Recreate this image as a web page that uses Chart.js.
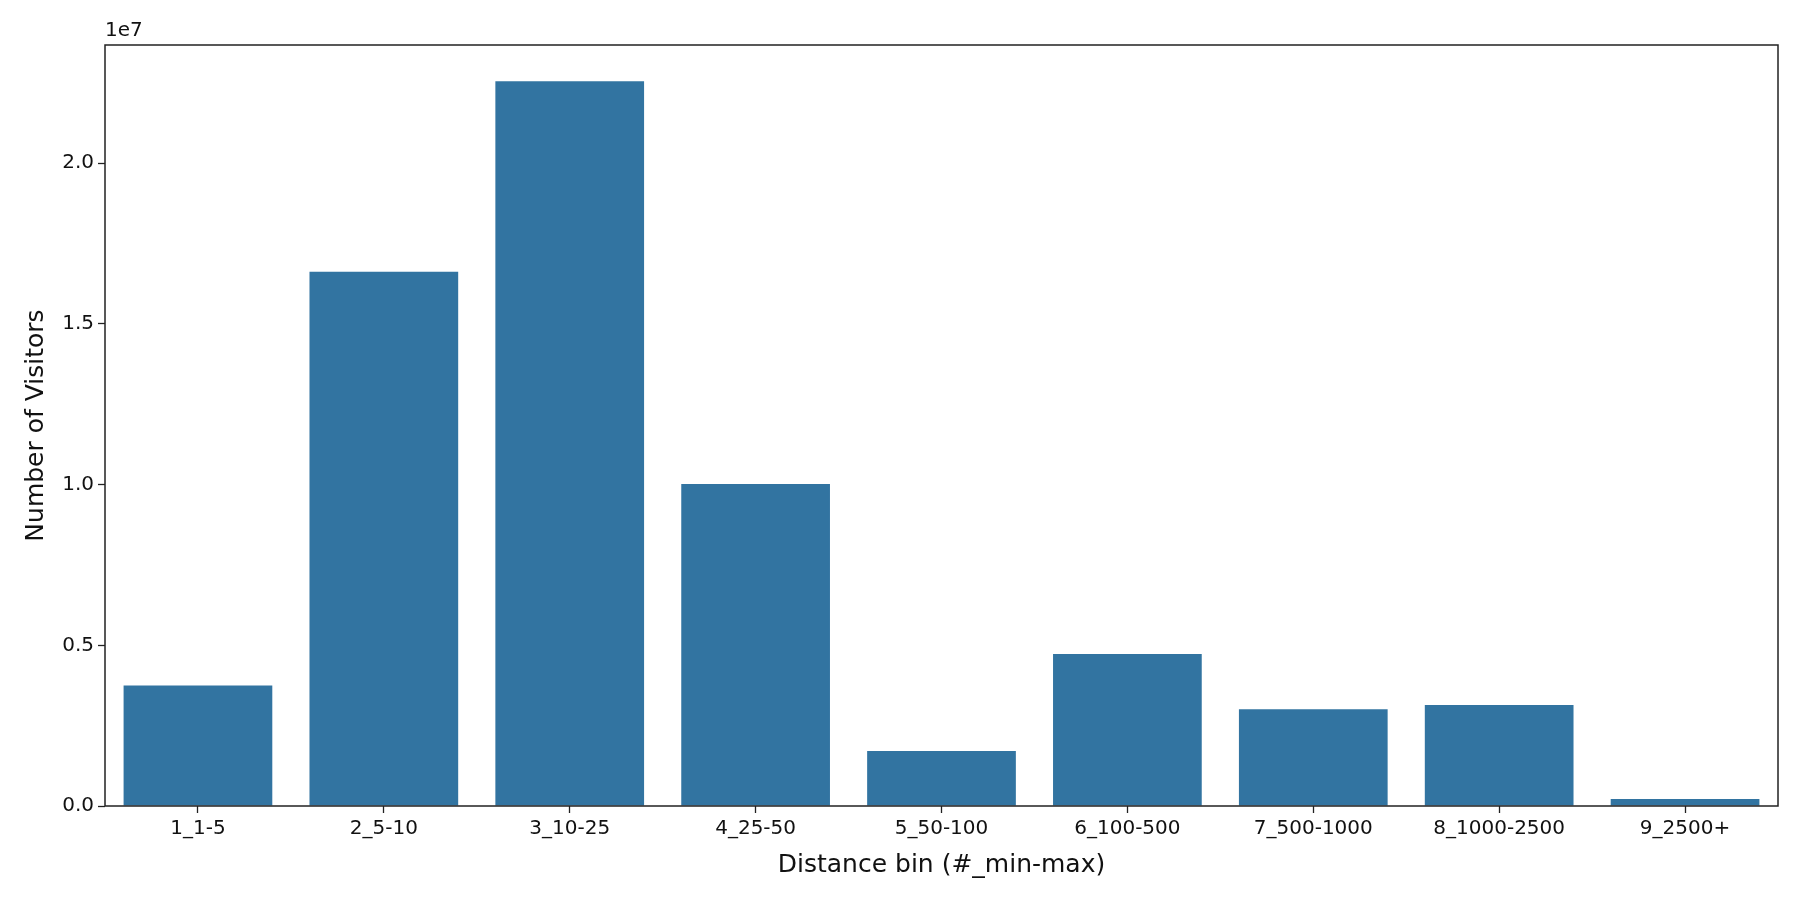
<!DOCTYPE html>
<html>
<head>
<meta charset="utf-8">
<script src="https://cdn.jsdelivr.net/npm/chart.js@4.4.1/dist/chart.umd.min.js"></script>
<style>
  html, body { margin: 0; padding: 0; background: #fff; }
  #wrap { width: 1800px; height: 900px; }
</style>
</head>
<body>
<div id="wrap"><canvas id="distChart" width="1800" height="900"></canvas></div>
<script>
const distanceBins = ["1_1-5", "2_5-10", "3_10-25", "4_25-50", "5_50-100", "6_100-500", "7_500-1000", "8_1000-2500", "9_2500+"];
const visitors = [3750000, 16620000, 22550000, 10020000, 1710000, 4730000, 3010000, 3140000, 220000];
const yTicks = [0, 5000000, 10000000, 15000000, 20000000];

const BAR_COLOR = "#3274a1";
const FONT = "'DejaVu Sans', sans-serif";

// frame around plot area + the matplotlib style "1e7" offset label
const framePlugin = {
  id: "frame",
  afterDraw(chart) {
    const { ctx, chartArea: a } = chart;
    ctx.save();
    ctx.strokeStyle = "#222";
    ctx.lineWidth = 1.5;
    ctx.strokeRect(a.left, a.top, a.right - a.left, a.bottom - a.top);
    ctx.fillStyle = "#111";
    ctx.font = "20px " + FONT;
    ctx.textAlign = "left";
    ctx.textBaseline = "bottom";
    ctx.fillText("1e7", a.left, a.top - 4);
    ctx.restore();
  }
};

new Chart(document.getElementById("distChart"), {
  type: "bar",
  data: {
    labels: distanceBins,
    datasets: [{
      data: visitors,
      backgroundColor: BAR_COLOR,
      borderWidth: 0,
      categoryPercentage: 0.8,
      barPercentage: 1.0
    }]
  },
  options: {
    responsive: false,
    animation: false,
    devicePixelRatio: 1,
    layout: { padding: { top: 45, right: 22, left: 21, bottom: 0 } },
    plugins: { legend: { display: false }, tooltip: { enabled: false } },
    scales: {
      x: {
        grid: { display: true, offset: false, drawOnChartArea: false, drawTicks: true, tickLength: 7, tickColor: "#222", tickWidth: 1.3 },
        border: { display: false },
        ticks: { color: "#111", font: { family: FONT, size: 20 }, padding: 4, maxRotation: 0 },
        title: { display: true, text: "Distance bin (#_min-max)", color: "#111", font: { family: FONT, size: 25 }, padding: { top: 2, bottom: 20 } },
        afterFit(scale) { scale.height = 94; }
      },
      y: {
        min: 0,
        max: Math.max(...visitors) * 1.05,
        afterBuildTicks(scale) { scale.ticks = yTicks.map(v => ({ value: v })); },
        grid: { display: true, drawOnChartArea: false, drawTicks: true, tickLength: 7, tickColor: "#222", tickWidth: 1.3 },
        border: { display: false },
        ticks: {
          color: "#111",
          font: { family: FONT, size: 20 },
          padding: 4,
          callback: v => (v / 1e7).toFixed(1)
        },
        title: { display: true, text: "Number of Visitors", color: "#111", font: { family: FONT, size: 25 }, padding: { top: 0, bottom: 6 } },
        afterFit(scale) { scale.width = 84; }
      }
    }
  },
  plugins: [framePlugin]
});
</script>
</body>
</html>
